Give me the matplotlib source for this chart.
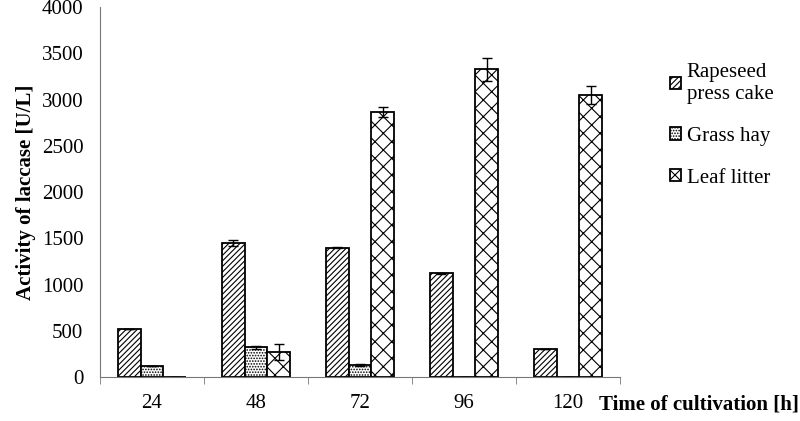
import matplotlib.pyplot as plt
import numpy as np

plt.rcParams['font.family'] = ['Liberation Serif', 'DejaVu Serif']
plt.rcParams['hatch.linewidth'] = 0.8

# ----- data -----
times = ['24', '48', '72', '96', '120']
rapeseed = [520, 1450, 1400, 1120, 300]
rapeseed_err = [0, 35, 10, 10, 0]
grass = [120, 320, 130, 0, 0]
grass_err = [0, 15, 10, 0, 0]
leaf = [5, 270, 2870, 3330, 3050]
leaf_err = [0, 90, 55, 125, 100]

labels = ['Rapeseed\npress cake', 'Grass hay', 'Leaf litter']
hatches = ['//////', '......', 'xx']

fig = plt.figure(figsize=(8, 4.21), dpi=100)
ax = fig.add_axes([0.125, 0.1045, 0.65, 0.8785])

x = np.arange(len(times))
w = 0.22
series = [(rapeseed, rapeseed_err), (grass, grass_err), (leaf, leaf_err)]
for i, (vals, errs) in enumerate(series):
    ax.bar(x + (i - 1) * w, vals, width=w, color='white', edgecolor='black',
           linewidth=1.3, hatch=hatches[i], label=labels[i],
           yerr=errs, error_kw=dict(ecolor='black', elinewidth=1, capsize=3.5, capthick=1))

ax.set_xlim(-0.5, len(times) - 0.5)
ax.set_ylim(0, 4000)
ax.set_yticks(range(0, 4001, 500))
ax.set_xticks(x)
ax.set_xticklabels(times)
ax.set_xticks(np.arange(-0.5, len(times), 1), minor=True)
ax.tick_params(axis='x', which='major', length=0, pad=12, labelsize=15)
ax.tick_params(axis='x', which='minor', length=5, color='#777777')
ax.tick_params(axis='y', length=0, labelsize=15, pad=12)

for s in ['top', 'right']:
    ax.spines[s].set_visible(False)
ax.spines['left'].set_color('#777777')
ax.spines['bottom'].set_color('#777777')

ax.set_ylabel('Activity of laccase [U/L]', fontweight='bold', fontsize=15, labelpad=4)
fig.text(0.999, 0.015, 'Time of cultivation [h]', fontweight='bold', fontsize=15,
         ha='right', va='bottom')

leg = ax.legend(loc='upper left', bbox_to_anchor=(1.06, 0.9), frameon=False,
                fontsize=15, handlelength=0.55, handleheight=0.55, handletextpad=0.25,
                labelspacing=1.1)

fig.savefig('out.png', dpi=100)
